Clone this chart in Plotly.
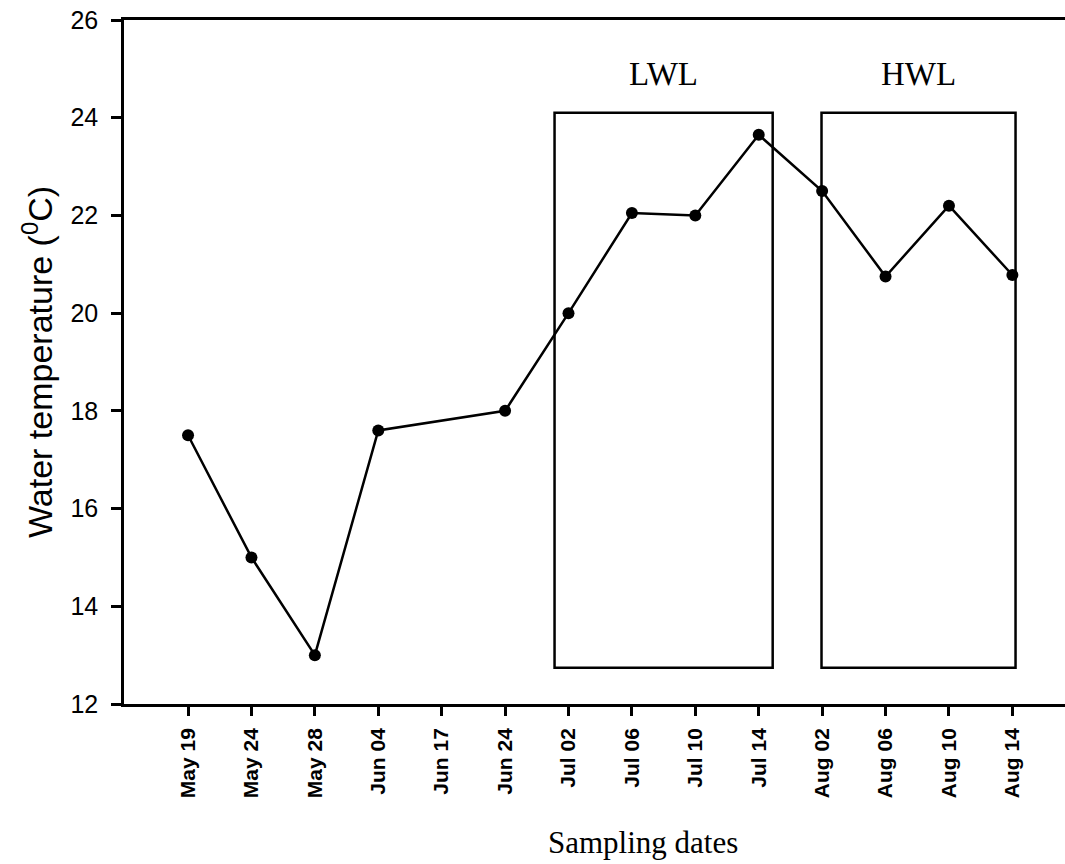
import plotly.graph_objects as go

# Sampling dates (Jun 17 has no reading; the line bridges over it)
dates = ["May 19", "May 24", "May 28", "Jun 04", "Jun 17", "Jun 24", "Jul 02",
         "Jul 06", "Jul 10", "Jul 14", "Aug 02", "Aug 06", "Aug 10", "Aug 14"]
water_temp = [17.5, 15.0, 13.0, 17.6, None, 18.0, 20.0,
              22.05, 22.0, 23.65, 22.5, 20.75, 22.2, 20.78]

# Water-level periods: (label, first date index edge, last date index edge)
periods = [("LWL", 5.78, 9.22), ("HWL", 9.99, 13.05)]
period_ymin, period_ymax = 12.74, 24.1

y_ticks = [12, 14, 16, 18, 20, 22, 24, 26]

fig = go.Figure()
fig.add_trace(go.Scatter(
    x=dates, y=water_temp, mode="lines+markers", connectgaps=True,
    line=dict(color="black", width=2.5),
    marker=dict(color="black", size=12),
    showlegend=False,
))

for label, x0, x1 in periods:
    fig.add_shape(type="rect", xref="x", yref="y", x0=x0, x1=x1,
                  y0=period_ymin, y1=period_ymax,
                  line=dict(color="black", width=2.5), fillcolor="rgba(0,0,0,0)")
    fig.add_annotation(x=(x0 + x1) / 2, y=24.9, xref="x", yref="y",
                       text=label, showarrow=False,
                       font=dict(family="Liberation Serif", size=33, color="black"))

# x-axis caption
fig.add_annotation(x=0.5515, y=-0.203, xref="paper", yref="paper",
                   xanchor="center", yanchor="middle",
                   text="Sampling dates", showarrow=False,
                   font=dict(family="Liberation Serif", size=31, color="black"))

fig.update_layout(
    width=1065, height=864,
    margin=dict(l=124, r=0, t=20, b=160),
    plot_bgcolor="white", paper_bgcolor="white",
    font=dict(family="Liberation Sans", color="black"),
)
fig.update_xaxes(
    type="category", categoryorder="array", categoryarray=dates,
    range=[-1.01, 13.83],
    showline=True, linecolor="black", linewidth=2.5, mirror=True,
    showgrid=False, zeroline=False,
    ticks="outside", ticklen=9, tickwidth=2.5, tickcolor="black",
    tickangle=-90, ticklabelstandoff=4,
    tickfont=dict(family="Liberation Sans", size=21, color="black", weight="bold"),
)
fig.update_yaxes(
    range=[12, 26], tickvals=y_ticks,
    showline=True, linecolor="black", linewidth=2.5,
    showgrid=False, zeroline=False,
    ticks="outside", ticklen=10, tickwidth=2.5, tickcolor="black",
    tickfont=dict(family="Liberation Sans", size=25, color="black"),
    ticklabelstandoff=8,
    title=dict(text="Water temperature (<sup>0</sup>C)", standoff=8,
               font=dict(family="Liberation Sans", size=34, color="black")),
)

fig.write_html("out.html")
